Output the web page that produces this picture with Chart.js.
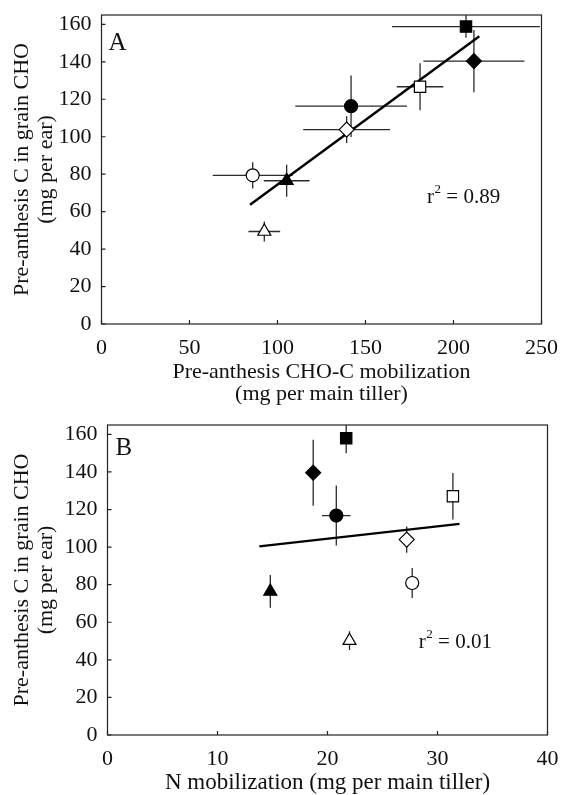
<!DOCTYPE html>
<html>
<head>
<meta charset="utf-8">
<script src="https://cdn.jsdelivr.net/npm/chart.js@4.4.0/dist/chart.umd.min.js"></script>
<style>
  html, body { margin: 0; padding: 0; background: #fff; }
  #wrap { position: relative; width: 562px; height: 795px; overflow: hidden; }
  #wrap canvas { position: absolute; left: 0; }
  #chartA { top: 0; }
  #chartB { top: 400px; }
</style>
</head>
<body>
<div id="wrap">
  <canvas id="chartA" width="562" height="410"></canvas>
  <canvas id="chartB" width="562" height="395"></canvas>
</div>
<script>
// treatments, same order in both panels:
// open circle, filled circle, open triangle, filled triangle,
// open diamond, filled diamond, open square, filled square
const markerShapes = ['circle', 'circle', 'triangle', 'triangle', 'rectRot', 'rectRot', 'rect', 'rect'];
const markerFilled = [false, true, false, true, false, true, false, true];
const markerRadius = [6.5, 6.5, 7.5, 7.5, 7.5, 7.5, 8, 8];

// panel A: pre-anthesis CHO-C mobilization vs pre-anthesis C in grain
const choMobA = [85.9, 141.8, 92.5, 105.2, 139.3, 211.6, 181.0, 207.1];
const choMobErrA = [22.7, 31.7, 9.0, 13.0, 24.7, 28.7, 13.2, 42.0];
const grainCA = [79.4, 116.3, 49.4, 76.5, 103.8, 140.4, 126.7, 158.8];
const grainCErrA = [7.0, 16.4, 5.3, 8.6, 7.2, 16.6, 12.5, 6.0];
const fitXA = [84.4, 214.7];
const fitYA = [63.7, 153.7];

// panel B: N mobilization vs pre-anthesis C in grain
const nMobB = [27.7, 20.8, 22.0, 14.8, 27.2, 18.7, 31.4, 21.7];
const nMobErrB = [0, 1.3, 0, 0, 0, 0, 0, 0];
const grainCB = [80.9, 116.8, 50.2, 76.4, 104.0, 139.6, 127.1, 157.9];
const grainCErrB = [8.0, 16.0, 5.0, 8.7, 7.0, 17.6, 12.4, 8.0];
const fitXB = [13.8, 32.0];
const fitYB = [100.4, 112.4];

const yTicks = [0, 20, 40, 60, 80, 100, 120, 140, 160];
const xTicksA = [0, 50, 100, 150, 200, 250];
const xTicksB = [0, 10, 20, 30, 40];

const serif = '"Liberation Serif", "Times New Roman", serif';
const ink = '#111';

// error bars, frame, inner ticks, panel letter and r² note
const decor = {
  id: 'decor',
  beforeDatasetsDraw(chart) {
    const ds = chart.data.datasets[0];
    const xs = chart.scales.x, ys = chart.scales.y;
    const a = chart.chartArea;
    const ctx = chart.ctx;
    ctx.save();
    ctx.beginPath();
    ctx.rect(a.left, a.top, a.right - a.left, a.bottom - a.top);
    ctx.clip();
    ctx.strokeStyle = '#2a2a2a';
    ctx.lineWidth = 1.3;
    ds.data.forEach((p, i) => {
      const px = xs.getPixelForValue(p.x), py = ys.getPixelForValue(p.y);
      const ex = ds.xErr[i], ey = ds.yErr[i];
      ctx.beginPath();
      if (ex) {
        ctx.moveTo(xs.getPixelForValue(p.x - ex), py);
        ctx.lineTo(xs.getPixelForValue(p.x + ex), py);
      }
      if (ey) {
        ctx.moveTo(px, ys.getPixelForValue(p.y - ey));
        ctx.lineTo(px, ys.getPixelForValue(p.y + ey));
      }
      ctx.stroke();
    });
    ctx.restore();
  },
  afterDraw(chart, args, opts) {
    const ctx = chart.ctx;
    const a = chart.chartArea;
    const xs = chart.scales.x, ys = chart.scales.y;
    ctx.save();
    ctx.strokeStyle = '#222';
    ctx.lineWidth = 1.2;
    ctx.strokeRect(a.left, a.top, a.right - a.left, a.bottom - a.top);
    ctx.beginPath();
    xs.ticks.forEach(t => {
      const px = xs.getPixelForValue(t.value);
      ctx.moveTo(px, a.bottom);
      ctx.lineTo(px, a.bottom - 4);
    });
    ys.ticks.forEach(t => {
      const py = ys.getPixelForValue(t.value);
      ctx.moveTo(a.left, py);
      ctx.lineTo(a.left + 4, py);
    });
    ctx.stroke();

    ctx.fillStyle = ink;
    ctx.textBaseline = 'alphabetic';
    ctx.textAlign = 'left';
    ctx.font = '25px ' + serif;
    ctx.fillText(opts.letter, a.left + opts.letterDx, a.top + opts.letterDy);

    const rx = xs.getPixelForValue(opts.r2At.x);
    const ry = ys.getPixelForValue(opts.r2At.y);
    ctx.font = '21px ' + serif;
    ctx.fillText('r', rx, ry);
    const wr = ctx.measureText('r').width;
    ctx.font = '13px ' + serif;
    ctx.fillText('2', rx + wr + 0.5, ry - 10);
    const w2 = ctx.measureText('2').width;
    ctx.font = '21px ' + serif;
    ctx.fillText(' = ' + opts.r2, rx + wr + w2 + 0.5, ry);
    ctx.restore();
  }
};

function makePanel(id, cfg) {
  const points = cfg.xs.map((x, i) => ({ x, y: cfg.ys[i] }));
  const fit = cfg.fitX.map((x, i) => ({ x, y: cfg.fitY[i] }));
  return new Chart(document.getElementById(id), {
    type: 'scatter',
    data: {
      datasets: [
        {
          data: points,
          xErr: cfg.xErr,
          yErr: cfg.yErr,
          pointStyle: markerShapes,
          pointRadius: markerRadius,
          backgroundColor: markerFilled.map(f => f ? '#000' : '#fff'),
          borderColor: '#000',
          borderWidth: 1.2
        },
        {
          type: 'line',
          data: fit,
          borderColor: '#000',
          borderWidth: 2.4,
          pointRadius: 0,
          showLine: true,
          fill: false
        }
      ]
    },
    options: {
      responsive: false,
      animation: false,
      events: [],
      layout: { padding: cfg.padding },
      plugins: {
        legend: { display: false },
        tooltip: { enabled: false },
        decor: { letter: cfg.letter, letterDx: cfg.letterDx, letterDy: cfg.letterDy, r2: cfg.r2, r2At: cfg.r2At }
      },
      scales: {
        x: {
          type: 'linear',
          min: cfg.xTicks[0],
          max: cfg.xTicks[cfg.xTicks.length - 1],
          afterBuildTicks: s => { s.ticks = cfg.xTicks.map(v => ({ value: v })); },
          afterFit: s => { s.height = cfg.xAxisHeight; s.paddingLeft = 0; s.paddingRight = 0; },
          grid: { display: false, drawTicks: false },
          border: { display: false },
          ticks: { color: ink, font: { family: serif, size: 22 }, padding: 11, maxRotation: 0 },
          title: {
            display: true,
            text: cfg.xTitle,
            color: ink,
            font: { family: serif, size: cfg.xTitleSize, lineHeight: 1.0 },
            padding: { top: 0, bottom: 0 }
          }
        },
        y: {
          type: 'linear',
          min: 0,
          max: 165,
          afterBuildTicks: s => { s.ticks = yTicks.map(v => ({ value: v })); },
          afterFit: s => { s.width = cfg.yAxisWidth; s.paddingTop = 0; s.paddingBottom = 0; },
          grid: { display: false, drawTicks: false },
          border: { display: false },
          ticks: { color: ink, font: { family: serif, size: 22 }, padding: 10 },
          title: {
            display: true,
            text: ['Pre-anthesis C in grain CHO', '(mg per ear)'],
            color: ink,
            font: { family: serif, size: 22, lineHeight: 1.1 },
            padding: { top: 10, bottom: 0 }
          }
        }
      }
    },
    plugins: [decor]
  });
}

makePanel('chartA', {
  xs: choMobA, ys: grainCA, xErr: choMobErrA, yErr: grainCErrA,
  fitX: fitXA, fitY: fitYA, xTicks: xTicksA,
  xTitle: ['Pre-anthesis CHO-C mobilization', '(mg per main tiller)'],
  xTitleSize: 22,
  padding: { left: 0, top: 15, right: 20.5, bottom: 5 },
  xAxisHeight: 81, yAxisWidth: 101.5,
  letter: 'A', letterDx: 7, letterDy: 35,
  r2: '0.89', r2At: { x: 185, y: 64.7 }
});

makePanel('chartB', {
  xs: nMobB, ys: grainCB, xErr: nMobErrB, yErr: grainCErrB,
  fitX: fitXB, fitY: fitYB, xTicks: xTicksB,
  xTitle: 'N mobilization (mg per main tiller)',
  xTitleSize: 23,
  padding: { left: 0, top: 25, right: 14.5, bottom: 1 },
  xAxisHeight: 59, yAxisWidth: 107.5,
  letter: 'B', letterDx: 8, letterDy: 30,
  r2: '0.01', r2At: { x: 28.3, y: 46.4 }
});
</script>
</body>
</html>
